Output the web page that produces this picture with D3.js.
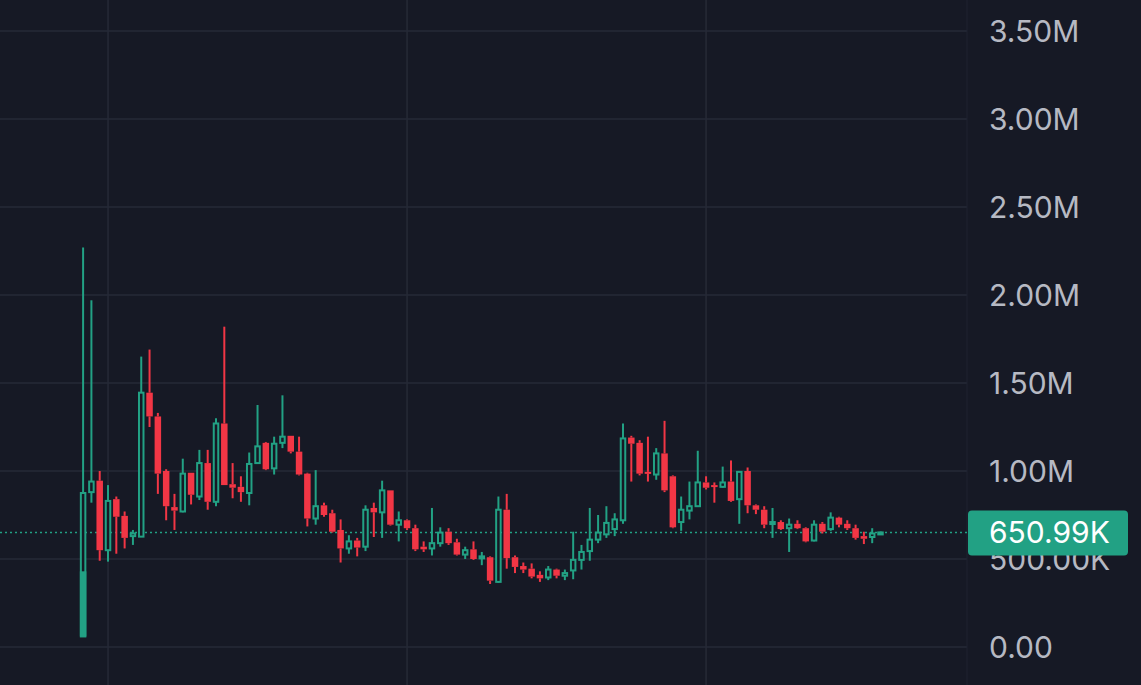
<!DOCTYPE html>
<html>
<head>
<meta charset="utf-8">
<script src="https://cdn.jsdelivr.net/npm/d3@7"></script>
<style>
  html, body { margin: 0; padding: 0; background: #161925; overflow: hidden; }
  #Chart1 { width: 1141px; height: 685px; }
</style>
</head>
<body>
<div id="Chart1"></div>
<script>
// candle values, in millions
var opens  = [0.06,0.88,0.945,0.55,0.84,0.745,0.63,0.627,1.445,1.31,1.0,0.795,0.77,0.99,0.855,1.045,0.825,1.27,0.925,0.91,
              0.875,1.045,1.16,1.015,1.16,1.2,1.11,0.985,0.73,0.805,0.76,0.665,0.56,0.605,0.57,0.79,0.765,0.89,0.695,0.72,
              0.675,0.57,0.56,0.59,0.655,0.595,0.525,0.555,0.505,0.51,0.37,0.78,0.51,0.46,0.445,0.41,0.395,0.44,0.405,0.435,
              0.495,0.545,0.61,0.64,0.67,0.72,1.19,1.16,0.995,0.98,1.1,0.97,0.71,0.775,0.8,0.935,0.92,0.91,0.94,0.84,
              1.0,0.805,0.78,0.7,0.71,0.675,0.7,0.675,0.605,0.7,0.67,0.735,0.7,0.675,0.63,0.625,0.645];
var highs  = [2.27,1.97,1.0,0.92,0.855,0.77,0.665,1.65,1.69,1.33,1.01,0.87,1.07,0.99,1.12,1.12,1.3,1.82,1.045,0.97,
              1.105,1.375,1.165,1.195,1.43,1.2,1.195,0.99,1.005,0.82,0.78,0.725,0.635,0.62,0.805,0.82,0.945,0.89,0.77,0.725,
              0.695,0.6,0.79,0.68,0.675,0.615,0.57,0.6,0.54,0.515,0.855,0.87,0.52,0.48,0.475,0.43,0.46,0.445,0.44,0.655,
              0.58,0.79,0.75,0.8,0.76,1.27,1.2,1.175,1.195,1.13,1.285,0.975,0.855,0.94,1.115,0.97,0.935,1.025,1.06,1.0,
              1.02,0.81,0.8,0.79,0.72,0.73,0.72,0.68,0.72,0.71,0.765,0.74,0.72,0.695,0.655,0.675,0.655];
var lows   = [0.06,0.82,0.49,0.485,0.53,0.56,0.58,0.625,1.25,0.87,0.72,0.665,0.765,0.81,0.835,0.78,0.8,0.92,0.845,0.825,
              0.805,1.04,1.005,0.98,1.13,1.1,0.975,0.685,0.695,0.74,0.65,0.48,0.53,0.515,0.545,0.625,0.62,0.69,0.6,0.665,
              0.545,0.54,0.52,0.57,0.58,0.52,0.5,0.495,0.465,0.358,0.365,0.445,0.42,0.42,0.39,0.37,0.38,0.39,0.38,0.385,
              0.44,0.49,0.59,0.62,0.63,0.7,0.94,0.975,0.94,0.95,0.88,0.675,0.66,0.725,0.8,0.895,0.82,0.905,0.825,0.7,
              0.76,0.755,0.675,0.62,0.665,0.54,0.67,0.595,0.6,0.645,0.66,0.68,0.665,0.61,0.585,0.59,0.642];
var closes = [0.875,0.94,0.55,0.83,0.74,0.62,0.645,1.445,1.31,0.985,0.8,0.775,0.985,0.865,1.045,0.825,1.27,0.92,0.905,0.88,
              1.04,1.14,1.01,1.155,1.195,1.11,0.98,0.73,0.8,0.75,0.655,0.56,0.6,0.565,0.78,0.765,0.89,0.695,0.72,0.675,
              0.555,0.555,0.59,0.65,0.59,0.525,0.55,0.5,0.515,0.377,0.78,0.505,0.455,0.44,0.4,0.39,0.44,0.405,0.42,0.495,
              0.54,0.61,0.65,0.705,0.725,1.185,1.155,0.985,0.985,1.1,0.89,0.68,0.78,0.8,0.935,0.905,0.91,0.935,0.83,0.995,
              0.805,0.78,0.695,0.71,0.67,0.695,0.675,0.6,0.695,0.655,0.735,0.695,0.675,0.62,0.615,0.645,0.651];

// first bar has a solid lower part
var firstBarFill = [0.06, 0.43];

var yTicks = [0, 0.5, 1.0, 1.5, 2.0, 2.5, 3.0, 3.5];
var dateGridIdx = [3, 39, 75];
var lastPrice = 0.65099;
var lastPriceLabel = "650.99K";

var green = "#22a184", red = "#f23645", gridColor = "#262a37", bg = "#161925";

var ContainerWidth = 1141, ContainerHeight = 685;
var plotRight = 967;

var svg = d3.select("#Chart1")
  .append("svg")
  .attr("width", ContainerWidth)
  .attr("height", ContainerHeight)
  .style("display", "block");

svg.append("rect").attr("width", ContainerWidth).attr("height", ContainerHeight).attr("fill", bg);

var x = d3.scaleLinear().domain([0, closes.length - 1]).range([83.1, 880.5]);
var y = d3.scaleLinear().domain([0, 3.5]).range([647, 31]);

function fmt(v) {
  if (v === 0) return "0.00";
  if (v < 1) return (v * 1000).toFixed(2) + "K";
  return v.toFixed(2) + "M";
}

// grid
svg.append("g").selectAll("line").data(yTicks).join("line")
  .attr("x1", 0).attr("x2", plotRight)
  .attr("y1", d => y(d)).attr("y2", d => y(d))
  .attr("stroke", gridColor).attr("stroke-width", 1.5);

svg.append("g").selectAll("line").data(dateGridIdx).join("line")
  .attr("x1", d => x(d)).attr("x2", d => x(d))
  .attr("y1", 0).attr("y2", ContainerHeight)
  .attr("stroke", gridColor).attr("stroke-width", 1.5);

svg.append("line")
  .attr("x1", plotRight).attr("x2", plotRight).attr("y1", 0).attr("y2", ContainerHeight)
  .attr("stroke", "#1f2330").attr("stroke-width", 1);

// y axis on the right, labels left aligned
var yAxis = d3.axisRight(y).tickValues(yTicks).tickSize(0).tickPadding(22).tickFormat(fmt);
var axisG = svg.append("g").attr("transform", "translate(" + plotRight + ",0)").call(yAxis);
axisG.select(".domain").remove();
axisG.selectAll("text")
  .attr("fill", "#b6b9c3")
  .style("font-family", "Inter, 'Noto Sans', sans-serif")
  .style("font-size", "30px")
  .attr("dy", "0.36em");

// last price dotted line
svg.append("line")
  .attr("x1", 0).attr("x2", plotRight)
  .attr("y1", y(lastPrice)).attr("y2", y(lastPrice))
  .attr("stroke", green).attr("stroke-width", 1.5)
  .attr("stroke-dasharray", "2,3");

// candles
var data = closes.map(function (c, i) {
  return { i: i, o: opens[i], h: highs[i], l: lows[i], c: c };
});
var bodyW = 6.5;

var g = svg.append("g");
data.forEach(function (d) {
  var up = d.c >= d.o;
  var col = up ? green : red;
  var top = Math.max(d.o, d.c), bot = Math.min(d.o, d.c);
  var cx = x(d.i);
  // wicks above and below body
  g.append("line").attr("x1", cx).attr("x2", cx)
    .attr("y1", y(d.h)).attr("y2", y(top))
    .attr("stroke", col).attr("stroke-width", 2);
  g.append("line").attr("x1", cx).attr("x2", cx)
    .attr("y1", y(bot)).attr("y2", y(d.l))
    .attr("stroke", col).attr("stroke-width", 2);
  var hgt = Math.max(y(bot) - y(top), 2);
  if (up) {
    g.append("rect")
      .attr("x", cx - bodyW / 2 + 1).attr("y", y(top))
      .attr("width", bodyW - 2).attr("height", hgt)
      .attr("fill", bg).attr("stroke", col).attr("stroke-width", 2);
  } else {
    g.append("rect")
      .attr("x", cx - bodyW / 2).attr("y", y(top))
      .attr("width", bodyW).attr("height", hgt)
      .attr("fill", col);
  }
});

g.append("rect")
  .attr("x", x(0) - bodyW / 2).attr("y", y(firstBarFill[1]))
  .attr("width", bodyW).attr("height", y(firstBarFill[0]) - y(firstBarFill[1]))
  .attr("fill", green);

// last price tag
var tag = svg.append("g");
tag.append("rect")
  .attr("x", plotRight + 1).attr("y", y(lastPrice) - 22)
  .attr("width", 160).attr("height", 45).attr("rx", 4)
  .attr("fill", green);
tag.append("text")
  .attr("x", plotRight + 22).attr("y", y(lastPrice))
  .attr("dy", "0.36em")
  .attr("fill", "#ffffff")
  .style("font-family", "Inter, 'Noto Sans', sans-serif")
  .style("font-size", "30px")
  .text(lastPriceLabel);
</script>
</body>
</html>
